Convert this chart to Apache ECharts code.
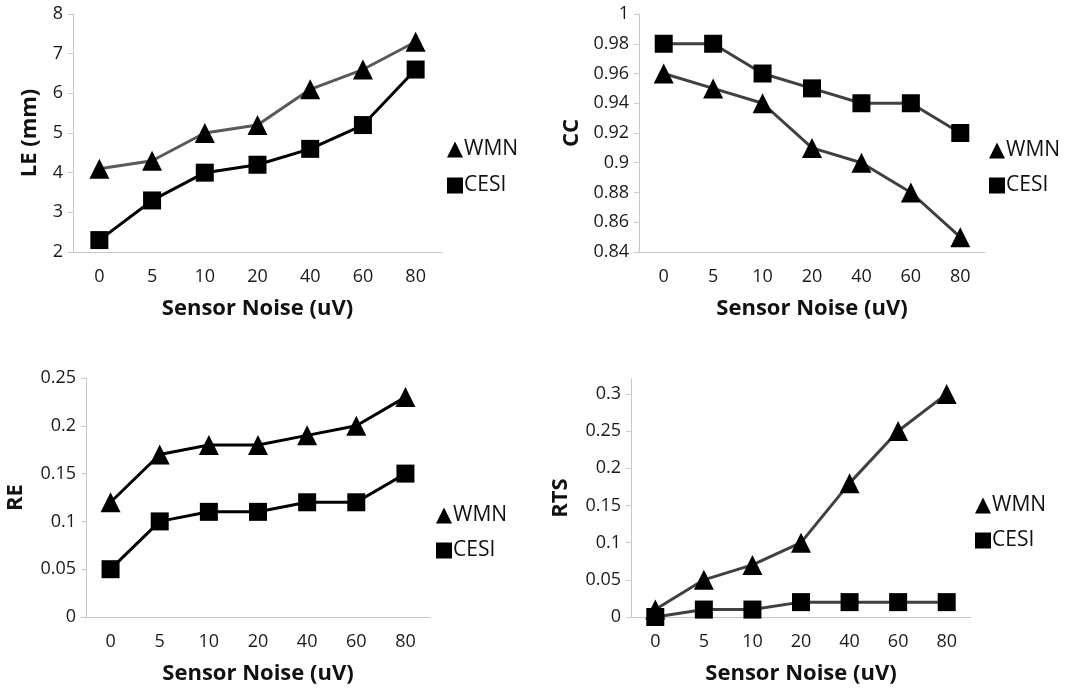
<!DOCTYPE html>
<html>
<head>
<meta charset="utf-8">
<script src="https://cdn.jsdelivr.net/npm/echarts@6/dist/echarts.min.js"></script>
<style>
html,body{margin:0;padding:0;background:#fff;}
#chart{width:1077px;height:693px;}
</style>
</head>
<body>
<div id="chart"></div>
<script>
const categories = ['0', '5', '10', '20', '40', '60', '80'];

const leWMN  = [4.1, 4.3, 5.0, 5.2, 6.1, 6.6, 7.3];
const leCESI = [2.3, 3.3, 4.0, 4.2, 4.6, 5.2, 6.6];

const ccWMN  = [0.96, 0.95, 0.94, 0.91, 0.90, 0.88, 0.85];
const ccCESI = [0.98, 0.98, 0.96, 0.95, 0.94, 0.94, 0.92];

const reWMN  = [0.12, 0.17, 0.18, 0.18, 0.19, 0.20, 0.23];
const reCESI = [0.05, 0.10, 0.11, 0.11, 0.12, 0.12, 0.15];

const rtsWMN  = [0.01, 0.05, 0.07, 0.10, 0.18, 0.25, 0.30];
const rtsCESI = [0.00, 0.01, 0.01, 0.02, 0.02, 0.02, 0.02];

const leTicks  = [2, 3, 4, 5, 6, 7, 8];
const ccTicks  = [0.84, 0.86, 0.88, 0.9, 0.92, 0.94, 0.96, 0.98, 1];
const reTicks  = [0, 0.05, 0.1, 0.15, 0.2, 0.25];
const rtsTicks = [0, 0.05, 0.1, 0.15, 0.2, 0.25, 0.3];

const FONT = '"Open Sans", "Noto Sans", sans-serif';
const AXIS_COLOR = '#c8c8c8';

function xAxis(gridIndex) {
  return {
    type: 'category', gridIndex, data: categories, boundaryGap: true,
    name: 'Sensor Noise (uV)', nameLocation: 'middle', nameGap: 46,
    nameTextStyle: {fontFamily: FONT, fontSize: 22, fontWeight: 'bold', color: '#111'},
    axisLine: {lineStyle: {color: AXIS_COLOR, width: 1}},
    axisTick: {show: false},
    axisLabel: {fontFamily: FONT, fontSize: 18, color: '#1a1a1a', margin: 16},
    splitLine: {show: false}
  };
}
function yAxis(gridIndex, name, ticks, min, max, interval, nameGap) {
  return {
    type: 'value', gridIndex, min, max, interval,
    name, nameLocation: 'middle', nameGap, nameRotate: 90,
    nameTextStyle: {fontFamily: FONT, fontSize: 22, fontWeight: 'bold', color: '#111'},
    axisLine: {show: true, lineStyle: {color: AXIS_COLOR, width: 1}},
    axisTick: {show: true, length: 5, lineStyle: {color: AXIS_COLOR}, customValues: ticks},
    axisLabel: {fontFamily: FONT, fontSize: 18, color: '#1a1a1a', margin: 10, customValues: ticks},
    splitLine: {show: false}
  };
}
function series(name, data, idx, lineColor, symbol) {
  return {
    type: 'line', name, data, xAxisIndex: idx, yAxisIndex: idx,
    symbol, symbolSize: symbol === 'triangle' ? 20 : 18,
    lineStyle: {color: lineColor, width: 3},
    itemStyle: {color: '#000'},
    emphasis: {disabled: true},
    z: symbol === 'rect' ? 3 : 2
  };
}
function legend(left, top, gap) {
  return {
    orient: 'vertical', left, top, itemGap: gap, itemWidth: 16, itemHeight: 16,
    selectedMode: false,
    textStyle: {fontFamily: FONT, fontSize: 21, color: '#111', padding: [0, 0, 0, -4]},
    data: [{name: 'WMN', icon: 'triangle'}, {name: 'CESI', icon: 'rect'}]
  };
}

const option = {
  backgroundColor: '#fff',
  animation: false,
  grid: [
    {left: 73, right: 1077 - 442, top: 14, bottom: 693 - 252},
    {left: 639, right: 1077 - 985, top: 14, bottom: 693 - 252},
    {left: 86, right: 1077 - 430, top: 378, bottom: 693 - 617},
    {left: 631, right: 1077 - 971, top: 379, bottom: 693 - 617}
  ],
  xAxis: [xAxis(0), xAxis(1), xAxis(2), xAxis(3)],
  yAxis: [
    yAxis(0, 'LE (mm)', leTicks, 2, 8, 1, 32),
    yAxis(1, 'CC', ccTicks, 0.84, 1, 0.02, 56),
    yAxis(2, 'RE', reTicks, 0, 0.25, 0.05, 59),
    yAxis(3, 'RTS', rtsTicks, 0, 0.32, 0.05, 59)
  ],
  legend: [
    legend(442, 134, 15),
    legend(984, 135, 14),
    legend(431, 500, 14),
    legend(970, 490, 14)
  ],
  series: [
    series('WMN', leWMN, 0, '#595959', 'triangle'),
    series('CESI', leCESI, 0, '#000000', 'rect'),
    series('WMN', ccWMN, 1, '#404040', 'triangle'),
    series('CESI', ccCESI, 1, '#404040', 'rect'),
    series('WMN', reWMN, 2, '#000000', 'triangle'),
    series('CESI', reCESI, 2, '#000000', 'rect'),
    series('WMN', rtsWMN, 3, '#404040', 'triangle'),
    series('CESI', rtsCESI, 3, '#404040', 'rect')
  ]
};

const chart = echarts.init(document.getElementById('chart'), null, {renderer: 'canvas'});
chart.setOption(option);
</script>
</body>
</html>
